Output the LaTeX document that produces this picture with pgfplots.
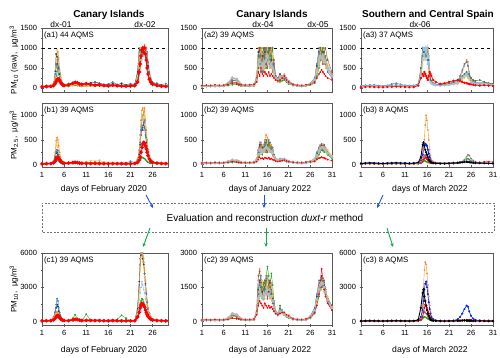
\documentclass[border=0pt]{standalone}
\usepackage{fontspec}
\setmainfont{Liberation Sans}
\usepackage{pgfplots}
\usepackage{pgfplotstable}
\pgfplotsset{compat=1.18}
\usetikzlibrary{arrows.meta}

\definecolor{cyel}{HTML}{F5C342}
\definecolor{cora}{HTML}{F28E2B}
\definecolor{cblu}{HTML}{3A7DC9}
\definecolor{cdbl}{HTML}{1B3F73}
\definecolor{cgrn}{HTML}{2CA02C}
\definecolor{clbl}{HTML}{9CC3EA}
\definecolor{cred}{HTML}{FF0000}
\definecolor{cgry}{HTML}{B8B8B8}
\definecolor{cbrn}{HTML}{8C564B}
\definecolor{cdgr}{HTML}{4E6B2E}
\definecolor{cpbl}{HTML}{0022FF}
\definecolor{arrblue}{HTML}{1A56DB}
\definecolor{arrgreen}{HTML}{11A84A}

% ---- Feb 2020, Canary Islands ----
\pgfplotstableread{
x yel ora blu dbl grn lbl red
1 40 30 50 35 20 45 30
2 35 45 40 60 25 50 35
3 50 40 60 45 30 40 40
3.6 90 70 110 80 50 60 60
4.0 300 250 350 420 150 200 110
4.2 700 500 600 850 300 380 160
4.4 950 680 550 780 420 300 200
4.6 820 900 700 600 500 400 230
4.8 600 750 480 500 350 320 220
5.0 400 450 380 350 250 260 180
5.2 250 300 220 260 150 180 140
5.4 150 180 160 150 100 120 110
5.7 90 100 110 80 60 80 80
6 60 70 80 60 45 55 60
7 50 60 110 70 40 50 80
8 70 90 130 100 60 70 120
8.5 90 110 150 120 70 80 140
9 80 100 140 110 60 70 130
9.5 60 80 110 90 50 60 100
10 50 60 90 70 40 50 90
11 45 55 120 80 40 60 110
12 60 70 100 130 50 70 90
13 50 60 90 150 45 55 70
14 55 65 110 120 50 60 80
15 45 55 80 90 40 50 60
16 40 50 100 80 35 45 55
17 60 70 150 110 50 60 70
18 50 60 90 80 40 50 55
19 45 55 70 120 40 45 50
20 40 50 80 70 35 45 45
21 45 55 110 80 40 50 50
22 60 70 90 100 45 55 60
22.6 300 250 350 400 200 250 150
23.0 800 700 900 1000 600 500 400
23.2 1000 900 1000 950 800 700 600
23.4 950 1000 800 1000 900 850 800
23.6 1000 950 1000 900 1000 700 950
23.8 900 1000 950 1000 850 900 1000
24.0 1000 850 1000 950 1000 800 900
24.2 950 1000 900 1000 900 1000 1000
24.4 1000 900 1000 850 1000 850 850
24.6 850 1000 800 1000 800 900 700
24.8 700 800 900 700 600 700 500
25.0 500 600 650 550 400 450 350
25.3 300 350 400 300 200 250 220
25.6 150 200 250 180 100 150 150
26 90 110 150 100 60 80 100
27 60 70 100 120 45 60 60
28 45 55 80 70 40 50 45
29 40 50 110 60 35 45 40
30 35 45 60 50 30 40 35
}\taba
\pgfplotstableread{
x yel ora blu dbl grn lbl red
1 20 15 25 18 10 20 15
2 18 22 20 25 12 22 18
3 25 20 28 22 14 20 20
3.6 60 50 70 50 25 35 35
4.0 200 250 180 150 50 90 70
4.2 380 480 260 230 80 150 110
4.4 450 550 300 250 100 180 140
4.6 350 500 280 200 90 160 150
4.8 250 380 200 160 70 120 130
5.0 150 250 140 110 50 80 100
5.2 90 150 90 70 35 50 70
5.4 50 80 60 45 25 35 50
5.7 35 45 40 30 18 28 35
6 25 30 30 25 15 22 25
7 22 28 30 24 14 20 30
8 30 35 40 30 18 25 40
8.5 35 40 45 35 20 28 45
9 30 35 40 32 18 25 40
9.5 25 30 35 28 15 22 30
10 22 28 30 25 14 20 25
11 60 25 50 28 14 22 22
12 80 30 40 35 16 25 20
13 70 40 50 30 15 22 22
14 90 35 45 28 14 20 20
15 50 30 35 25 13 18 18
16 30 25 30 22 12 18 18
17 40 28 35 25 14 20 20
18 30 25 30 22 12 18 18
19 25 22 40 20 12 16 16
20 22 20 30 20 11 16 16
21 25 22 70 22 12 18 18
22 30 28 40 28 14 22 22
22.6 80 90 100 70 30 50 40
23.0 250 300 280 200 60 120 90
23.2 500 600 450 400 90 200 150
23.4 800 900 700 600 120 300 250
23.6 1000 1100 900 800 150 400 350
23.8 900 1150 1000 700 140 450 420
24.0 1100 1000 850 850 130 400 450
24.2 950 1150 900 750 120 350 430
24.4 750 900 700 600 100 300 380
24.6 600 700 550 450 80 250 320
24.8 400 500 380 300 60 180 250
25.0 250 300 250 200 45 120 180
25.3 150 180 150 120 30 80 110
25.6 80 100 90 70 22 50 70
26 45 55 60 40 16 35 45
27 30 35 40 28 14 25 28
28 22 28 30 22 12 20 22
29 20 25 28 20 11 18 20
30 18 22 25 18 10 16 18
}\tabb
\pgfplotstableread{
x yel ora blu dbl grn lbl red
1 80 60 100 70 40 90 60
2 70 90 80 120 50 100 70
3 100 80 120 90 60 80 80
3.6 300 250 400 300 150 200 150
4.0 500 600 900 800 250 400 280
4.2 700 800 1500 1200 350 500 400
4.4 650 900 2000 1500 400 600 500
4.6 600 750 1800 1300 350 500 520
4.8 450 600 1200 900 300 400 450
5.0 300 400 800 600 200 300 350
5.2 200 250 500 400 150 200 250
5.4 120 150 300 250 100 130 180
5.7 90 100 180 150 70 90 120
6 70 80 120 100 60 70 90
7 60 70 100 90 50 60 80
8 80 100 150 120 300 90 150
8.5 100 120 180 150 600 100 200
9 90 110 160 130 250 90 180
9.5 70 90 130 110 60 80 120
10 60 70 110 90 50 60 90
11 70 80 150 100 650 70 100
12 80 90 130 150 100 80 90
13 70 80 120 160 60 70 80
14 75 85 140 130 150 75 85
15 60 70 100 100 50 60 70
16 55 65 120 90 45 55 65
17 80 90 180 130 60 70 80
18 65 75 110 100 200 60 70
19 60 70 90 140 550 55 60
20 55 65 100 90 300 55 55
21 60 70 130 100 50 60 60
22 80 90 110 120 60 70 70
22.6 800 900 1000 1100 400 600 400
23.0 2500 3000 3200 3500 900 1500 800
23.2 4500 5000 5500 5000 1500 2500 1200
23.4 5500 6000 6200 5800 1800 3000 1400
23.6 6000 6200 5800 6200 2000 3500 1600
23.8 5200 5800 6000 5500 1900 3200 1500
24.0 4800 5500 5200 5000 1700 2800 1400
24.2 4000 4500 4200 4200 1500 2500 1250
24.4 3000 3500 3200 3300 1200 2000 1000
24.6 2200 2600 2400 2500 900 1500 800
24.8 1500 1800 1700 1700 700 1100 600
25.0 1000 1200 1100 1100 500 800 450
25.3 600 700 700 650 300 500 300
25.6 350 400 400 380 200 300 200
26 200 250 250 220 150 180 130
27 120 140 150 160 100 110 90
28 90 100 120 100 70 80 70
29 80 90 140 90 60 75 60
30 70 80 100 80 55 70 55
}\tabc

% ---- Jan 2022, Canary Islands ----
\pgfplotstableread{
x ora blu yel grn brn dbl red gry
1 50 60 40 30 45 55 60 50
2 60 50 45 35 50 60 70 55
3 55 65 50 40 45 50 60 50
4 70 55 60 35 55 65 80 60
5 60 70 50 40 50 60 65 55
6 65 60 55 45 60 70 70 60
7 80 90 70 60 80 100 90 120
8 150 180 120 80 150 200 120 250
9 120 200 150 90 130 170 100 220
9.5 100 150 90 70 90 120 90 150
10 70 90 60 50 70 80 80 90
11 60 70 55 45 60 70 70 70
12 70 60 65 40 55 65 80 65
13 80 90 70 50 70 80 90 80
13.6 300 250 200 150 250 200 150 200
14.0 1000 800 700 500 600 900 400 600
14.3 700 1000 500 800 1000 600 300 700
14.6 1000 600 900 400 700 1000 500 500
14.9 500 900 1000 600 400 800 350 600
15.2 900 400 600 1000 800 500 300 500
15.5 1000 800 400 700 1000 900 400 650
15.8 600 1000 800 500 600 1000 350 700
16.1 1000 700 1000 900 500 700 300 800
16.4 800 1000 600 1000 900 800 400 650
16.7 500 600 900 600 1000 1000 300 550
17.0 1000 800 500 800 600 700 350 600
17.3 700 500 800 1000 400 600 300 500
17.6 400 600 300 500 700 400 250 400
18 250 300 200 250 300 200 200 250
18.5 200 250 150 200 180 250 180 200
19 300 200 250 150 200 350 200 250
19.5 250 300 200 180 250 280 250 280
20 350 250 300 200 220 300 300 300
20.5 200 250 150 150 180 200 200 200
21 150 180 120 100 130 150 150 150
22 80 100 70 60 80 90 90 90
23 60 70 55 45 60 70 70 65
24 55 65 50 40 55 60 60 60
25 70 60 55 45 50 65 80 60
26 100 120 80 70 90 110 90 100
27 200 250 150 120 180 220 150 200
27.5 500 600 400 300 450 550 250 450
28 800 1000 600 500 700 900 350 700
28.3 1000 700 900 700 1000 800 400 800
28.6 700 1000 1000 900 800 1000 450 750
28.9 1000 800 700 1000 600 900 400 800
29.2 600 900 1000 700 900 700 350 700
29.5 800 600 500 800 1000 800 300 650
30 500 400 600 500 700 500 250 500
31 300 250 350 300 400 350 200 300
}\tabd
\pgfplotstableread{
x ora blu yel grn brn dbl red gry
1 30 35 25 20 30 35 30 30
2 35 30 28 22 30 35 35 32
3 32 38 30 25 28 30 30 30
4 40 35 35 22 32 38 40 35
5 35 40 30 25 30 35 35 32
6 38 35 32 28 35 40 35 35
7 45 50 40 35 45 55 45 60
8 80 60 100 40 70 90 60 90
9 60 80 70 45 60 80 50 80
9.5 50 60 45 35 45 60 45 60
10 40 45 35 30 40 45 40 45
11 35 40 32 28 35 40 35 40
12 40 35 38 25 32 38 40 38
13 45 50 40 30 40 45 45 45
13.6 120 100 80 60 100 90 60 80
14.0 300 250 200 150 200 280 100 200
14.3 450 350 300 200 250 400 150 280
14.6 350 450 250 300 400 300 120 300
14.9 250 300 400 200 250 350 130 250
15.2 400 250 300 350 300 250 110 280
15.5 500 400 250 300 450 350 140 320
15.8 600 450 350 250 300 500 130 350
16.1 550 350 500 400 250 350 120 330
16.4 350 500 300 450 400 300 140 300
16.7 250 300 400 300 450 400 110 280
17.0 400 250 250 350 300 250 120 260
17.3 250 350 300 200 250 300 100 230
17.6 150 200 150 150 200 150 90 160
18 100 120 90 100 110 90 70 100
18.5 80 100 70 80 80 100 60 85
19 110 90 100 70 90 120 70 95
19.5 90 110 80 75 95 100 80 95
20 120 100 110 80 90 110 90 105
20.5 80 90 70 60 75 80 70 80
21 60 70 55 45 60 65 60 62
22 45 50 40 35 45 48 45 46
23 38 42 35 28 38 40 40 38
24 35 40 32 25 35 38 38 36
25 45 40 35 28 35 42 50 40
26 60 70 50 40 55 65 55 60
27 100 120 80 60 90 110 70 95
27.5 200 250 160 120 180 220 100 190
28 300 350 250 200 280 320 130 280
28.3 400 300 350 250 350 380 140 330
28.6 350 420 300 300 300 400 150 340
28.9 400 350 420 280 380 300 140 350
29.2 300 380 350 250 400 350 130 320
29.5 350 300 250 300 300 320 120 290
30 250 200 300 200 250 220 100 230
31 150 130 180 120 160 140 80 150
}\tabe
\pgfplotstableread{
x ora blu yel grn brn dbl red gry
1 60 70 50 40 55 65 70 60
2 70 60 55 45 60 70 80 65
3 65 75 60 50 55 60 70 60
4 80 65 70 45 65 75 90 70
5 70 80 60 50 60 70 75 65
6 75 70 65 55 70 80 80 70
7 100 110 90 80 100 120 100 150
8 250 200 200 150 300 250 150 350
9 200 300 250 120 200 250 130 300
9.5 150 200 130 100 130 170 120 200
10 90 110 80 70 90 100 100 110
11 70 80 65 55 70 80 80 80
12 80 70 75 50 65 75 90 75
13 100 110 90 70 90 100 110 100
13.6 500 400 350 300 450 350 300 350
14.0 1800 1200 1000 800 2000 1400 700 1000
14.3 2300 1600 1400 1200 2200 1800 900 1300
14.6 1600 2000 1100 1500 1700 1500 800 1200
14.9 1000 1500 1800 1000 1200 1300 700 1100
15.2 1500 1000 1200 1700 1400 1000 600 1000
15.5 1800 1400 1000 1300 1800 1500 800 1200
15.8 1200 1900 1500 2000 1300 1800 700 1300
16.1 2000 1300 1800 2400 1000 1400 600 1400
16.4 1500 1800 1200 2000 1600 1300 700 1200
16.7 1000 1200 1600 1500 1800 1700 600 1100
17.0 1700 1400 1000 2100 1200 1200 650 1100
17.3 1200 900 1300 1600 800 1000 550 900
17.6 700 800 600 900 700 600 450 650
18 400 450 350 400 450 350 350 400
18.5 300 350 250 300 280 350 300 300
19 500 400 450 700 400 550 350 450
19.5 400 500 350 400 450 450 400 420
20 350 300 300 350 280 300 400 320
20.5 250 300 200 200 230 260 300 250
21 200 250 300 150 180 200 250 210
22 120 130 100 90 110 120 120 115
23 80 90 75 60 80 85 90 85
24 75 85 70 55 75 80 85 78
25 100 90 80 65 80 95 120 90
26 200 250 160 140 180 220 180 200
27 500 600 400 350 450 550 400 480
27.5 1000 1200 800 700 900 1100 700 950
28 1500 1800 1200 1100 1400 1600 1200 1400
28.3 1800 1500 1600 1400 1700 1700 1800 1600
28.6 1500 1900 1400 1700 1500 2000 2300 1700
28.9 1700 1600 1900 1800 1600 1500 1900 1650
29.2 1300 1700 1500 1400 1800 1600 1400 1500
29.5 1400 1200 1100 1500 1300 1400 1100 1300
30 1000 800 1100 900 1000 900 800 950
31 600 500 650 550 700 600 500 600
}\tabf

% ---- Mar 2022, Southern and Central Spain ----
\pgfplotstableread{
x ora blu dgr lbl gry yel red
1 40 50 45 35 40 30 20
2 60 70 55 45 50 40 25
3 80 60 70 50 55 45 30
4 70 80 60 55 60 50 25
5 50 60 50 40 45 35 20
6 45 55 45 40 40 35 20
7 55 65 50 45 50 40 25
8 60 100 70 50 55 45 30
9 70 120 80 60 65 50 35
10 60 90 70 55 60 45 30
11 50 70 60 45 50 40 25
12 45 60 55 40 45 35 20
13 50 65 60 45 50 40 25
14 80 90 100 70 80 60 60
14.6 400 300 500 300 350 250 250
15.0 1000 800 1000 700 900 600 350
15.2 800 1000 900 1000 1000 800 300
15.4 1000 900 1000 800 900 1000 400
15.6 900 1000 800 1000 1000 700 350
15.8 1000 800 1000 900 800 1000 300
16.0 700 1000 900 1000 1000 800 250
16.2 1000 700 1000 600 700 900 200
16.4 500 600 700 800 500 400 300
16.6 300 400 350 300 250 200 400
16.8 200 250 200 150 180 150 350
17.0 150 180 150 120 140 100 300
17.4 100 120 110 90 100 80 200
18 80 90 90 70 80 60 150
19 70 80 80 60 70 55 100
20 80 90 100 70 75 60 120
21 90 100 120 80 85 70 150
22 120 130 150 100 110 90 180
23 150 180 200 120 130 100 200
23.5 250 300 220 180 200 150 180
24 400 450 300 250 250 200 150
24.5 550 600 350 300 300 250 130
25 700 650 400 350 350 300 120
25.3 650 550 350 300 300 250 110
25.6 400 350 300 250 250 200 100
26 200 250 250 150 180 150 90
26.5 150 180 200 120 140 100 80
27 120 150 180 100 120 90 70
28 100 120 200 90 110 80 60
29 120 150 150 100 100 90 70
30 100 120 120 90 90 70 60
31 80 100 100 70 80 60 50
}\tabg
\pgfplotstableread{
x ora blk blu red gry grn
1 15 20 25 10 15 12
2 20 25 30 12 18 15
3 25 30 35 15 20 18
4 20 28 30 12 18 15
5 15 22 25 10 15 12
6 15 20 25 10 14 12
7 18 25 28 12 16 14
8 20 30 30 14 18 15
9 22 32 35 15 20 18
10 20 28 30 12 18 15
11 18 25 28 12 16 14
12 15 22 25 10 15 12
13 18 25 28 12 16 14
14 25 40 35 15 22 18
14.6 60 150 80 30 50 30
15.0 150 400 200 60 100 50
15.2 300 450 300 100 150 70
15.4 500 380 380 120 180 80
15.6 800 300 420 150 200 70
15.8 1000 250 400 130 180 60
16.0 900 200 380 110 150 50
16.2 700 150 300 90 120 45
16.4 500 100 220 70 90 40
16.6 300 70 150 50 70 35
16.8 180 50 100 40 50 30
17.0 100 40 70 30 40 25
17.4 60 30 50 25 30 20
18 40 25 35 20 25 18
19 30 22 30 18 22 15
20 28 20 28 16 20 14
21 30 25 30 18 22 15
22 35 30 35 20 25 18
23 40 35 40 30 30 25
23.5 45 40 45 40 40 35
24 50 45 50 50 60 50
24.5 55 50 55 55 100 80
25 60 55 60 60 160 110
25.3 55 50 55 55 200 120
25.6 50 45 50 50 180 100
26 45 40 45 45 120 70
26.5 40 35 40 45 80 50
27 35 30 35 40 60 40
28 30 28 32 45 40 30
29 28 25 30 55 35 28
30 25 22 28 60 30 25
31 22 20 25 50 28 22
}\tabh
\pgfplotstableread{
x ora blk blu red gry grn
1 40 50 60 30 40 35
2 50 60 70 35 45 40
3 60 70 80 40 50 45
4 50 65 70 35 45 40
5 40 55 60 30 40 35
6 40 50 60 30 38 35
7 45 60 65 35 42 38
8 50 70 70 38 45 40
9 55 75 80 40 50 45
10 50 65 70 35 45 40
11 45 60 65 35 42 38
12 40 55 60 30 40 35
13 45 60 65 35 42 38
14 80 150 100 50 60 50
14.6 300 1200 400 150 200 100
15.0 1500 2500 1000 400 500 250
15.2 3000 2800 1800 800 700 350
15.4 4500 2200 2800 1200 900 400
15.6 5200 1800 3300 1500 800 380
15.8 5000 1400 3500 1400 700 350
16.0 4200 1000 3000 1200 600 300
16.2 3200 700 2400 900 450 250
16.4 2200 500 1700 700 350 200
16.6 1400 300 1100 500 250 150
16.8 800 200 700 300 180 120
17.0 400 120 400 200 120 90
17.4 200 80 200 120 80 60
18 100 60 100 70 50 45
19 70 50 70 50 40 35
20 60 45 65 40 35 30
21 70 50 70 45 40 35
22 80 60 90 50 45 40
23 100 70 200 70 60 50
23.5 120 80 400 80 70 60
24 130 90 700 100 90 70
24.5 140 100 1100 120 110 80
25 130 90 1400 130 120 90
25.3 120 80 1300 120 110 85
25.6 110 70 900 110 100 80
26 100 65 500 150 90 70
26.5 90 60 250 100 80 60
27 80 55 150 80 70 55
28 70 50 100 70 60 50
29 60 45 80 80 55 45
30 55 40 70 90 50 40
31 50 38 60 70 45 38
}\tabi

\pgfplotsset{
  pan/.style={
    scale only axis,
    axis line style={draw=black!65, line width=0.6pt},
    tick align=center,
    tick pos=left,
    major tick length=3pt,
    minor tick length=2pt,
    every tick/.append style={draw=black!65, line width=0.5pt},
    tick label style={font=\fontsize{7.5}{8}\selectfont},
    /pgf/number format/assume math mode=true,
    /pgf/number format/1000 sep={},
    xtick={1,6,11,16,21,26,31},
    minor y tick num=1,
    xmin=1,
    clip=true,
  },
  rowa/.style={pan, height=64pt, ymin=-100, ymax=1500, ytick={0,500,1000,1500}, xticklabels={}},
  rowb/.style={pan, height=64pt, ymin=-50, ymax=1250, ytick={0,500,1000}},
  rowc/.style={pan, height=72pt, ymin=-300, ymax=6000, ytick={0,3000,6000}},
  col1/.style={width=126pt, xmax=29.5},
  col2/.style={width=130pt, xmax=31},
  col3/.style={width=132pt, xmax=31},
  st/.style={line width=0.4pt, mark=*, mark size=0.65pt},
  thick red/.style={cred, line width=1.6pt, mark=*, mark size=0.9pt},
  thick gray/.style={cgry, line width=1.6pt, mark=*, mark size=0.7pt},
}
\newcommand\ser[3]{\addplot[st,#3] table[x=x,y=#2]{#1};}
\newcommand\tag[1]{\node[anchor=north west, inner sep=0pt, font=\fontsize{7.8}{9}\selectfont] at (rel axis cs:0.015,0.95) {#1};}
\newcommand\capline{\addplot[black, dashed, line width=0.5pt] coordinates {(1,1000) (31,1000)};}

\begin{document}
\begin{tikzpicture}
\path[use as bounding box] (0,0) rectangle (500pt,358pt);

% ---------------- row a ----------------
\begin{axis}[rowa, col1, at={(42pt,330pt)}, anchor=north west]
  \ser{\taba}{lbl}{clbl} \ser{\taba}{grn}{cgrn} \ser{\taba}{dbl}{cdbl}
  \ser{\taba}{blu}{cblu} \ser{\taba}{ora}{cora} \ser{\taba}{yel}{cyel}
  \addplot[thick red] table[x=x,y=red]{\taba};
  \capline
  \tag{(a1) 44 AQMS}
\end{axis}
\begin{axis}[rowa, col2, at={(202pt,330pt)}, anchor=north west]
  \ser{\tabd}{dbl}{cdbl} \ser{\tabd}{blu}{cblu} \ser{\tabd}{ora}{cora}
  \ser{\tabd}{yel}{cyel} \ser{\tabd}{grn}{cgrn} \ser{\tabd}{brn}{cbrn}
  \addplot[thick gray] table[x=x,y=gry]{\tabd};
  \ser{\tabd}{red}{cred}
  \capline
  \tag{(a2) 39 AQMS}
\end{axis}
\begin{axis}[rowa, col3, at={(361pt,330pt)}, anchor=north west]
  \ser{\tabg}{gry}{cgry} \ser{\tabg}{yel}{cyel} \ser{\tabg}{ora}{cora}
  \ser{\tabg}{blu}{cblu} \ser{\tabg}{dgr}{cdgr}
  \addplot[clbl, line width=1.2pt, mark=*, mark size=0.6pt] table[x=x,y=lbl]{\tabg};
  \addplot[cred, line width=0.6pt, mark=*, mark size=0.9pt] table[x=x,y=red]{\tabg};
  \capline
  \tag{(a3) 37 AQMS}
\end{axis}

% ---------------- row b ----------------
\begin{axis}[rowb, col1, at={(42pt,255pt)}, anchor=north west]
  \ser{\tabb}{lbl}{clbl} \ser{\tabb}{grn}{cgrn} \ser{\tabb}{dbl}{cdbl}
  \ser{\tabb}{blu}{cblu} \ser{\tabb}{yel}{cyel} \ser{\tabb}{ora}{cora}
  \addplot[thick red] table[x=x,y=red]{\tabb};
  \tag{(b1) 39 AQMS}
\end{axis}
\begin{axis}[rowb, col2, at={(202pt,255pt)}, anchor=north west]
  \ser{\tabe}{dbl}{cdbl} \ser{\tabe}{blu}{cblu} \ser{\tabe}{ora}{cora}
  \ser{\tabe}{yel}{cyel} \ser{\tabe}{grn}{cgrn} \ser{\tabe}{brn}{cbrn}
  \addplot[thick gray] table[x=x,y=gry]{\tabe};
  \ser{\tabe}{red}{cred}
  \tag{(b2) 39 AQMS}
\end{axis}
\begin{axis}[rowb, col3, at={(361pt,255pt)}, anchor=north west]
  \ser{\tabh}{grn}{cgrn} \ser{\tabh}{gry}{gray}
  \ser{\tabh}{red}{cred}
  \addplot[cpbl, line width=0.9pt, mark=*, mark size=0.6pt] table[x=x,y=blu]{\tabh};
  \ser{\tabh}{ora}{cora}
  \addplot[black, line width=0.8pt, mark=*, mark size=0.6pt] table[x=x,y=blk]{\tabh};
  \tag{(b3) 8 AQMS}
\end{axis}

% ---------------- row c ----------------
\begin{axis}[rowc, col1, at={(42pt,105pt)}, anchor=north west]
  \ser{\tabc}{lbl}{clbl} \ser{\tabc}{grn}{cgrn} \ser{\tabc}{dbl}{cdbl}
  \ser{\tabc}{blu}{cblu} \ser{\tabc}{yel}{cyel} \ser{\tabc}{ora}{cora}
  \addplot[thick red] table[x=x,y=red]{\tabc};
  \tag{(c1) 39 AQMS}
\end{axis}
\begin{axis}[rowc, col2, at={(202pt,105pt)}, anchor=north west,
             ymin=-150, ymax=3000, ytick={0,1500,3000}]
  \ser{\tabf}{dbl}{cdbl} \ser{\tabf}{blu}{cblu} \ser{\tabf}{ora}{cora}
  \ser{\tabf}{yel}{cyel} \ser{\tabf}{brn}{cbrn} \ser{\tabf}{grn}{cgrn}
  \addplot[thick gray] table[x=x,y=gry]{\tabf};
  \ser{\tabf}{red}{cred}
  \tag{(c2) 39 AQMS}
\end{axis}
\begin{axis}[rowc, col3, at={(361pt,105pt)}, anchor=north west]
  \ser{\tabi}{grn}{cgrn} \ser{\tabi}{gry}{gray}
  \ser{\tabi}{ora}{cora}
  \addplot[cpbl, line width=0.6pt, mark=*, mark size=0.7pt] table[x=x,y=blu]{\tabi};
  \addplot[cred, line width=0.6pt, mark=*, mark size=0.7pt] table[x=x,y=red]{\tabi};
  \addplot[black, line width=0.9pt, mark=*, mark size=0.7pt] table[x=x,y=blk]{\tabi};
  \tag{(c3) 8 AQMS}
\end{axis}

% ---------------- titles and labels ----------------
\begin{scope}[font=\fontsize{10}{12}\selectfont\bfseries]
  \node at (109pt,343pt) {Canary Islands};
  \node at (272pt,343pt) {Canary Islands};
  \node at (428pt,343pt) {Southern and Central Spain};
\end{scope}
\begin{scope}[font=\fontsize{8.4}{10}\selectfont]
  \node at (61pt,333pt) {dx-01};
  \node at (145pt,333pt) {dx-02};
  \node at (263pt,333pt) {dx-04};
  \node at (318pt,333pt) {dx-05};
  \node at (420pt,333pt) {dx-06};
\end{scope}
\begin{scope}[font=\fontsize{8.6}{10}\selectfont]
  \node at (104pt,169pt) {days of February 2020};
  \node at (270pt,169pt) {days of January 2022};
  \node at (430pt,169pt) {days of March 2022};
  \node at (104pt,8pt) {days of February 2020};
  \node at (270pt,8pt) {days of January 2022};
  \node at (430pt,8pt) {days of March 2022};
\end{scope}
\begin{scope}[font=\fontsize{8}{10}\selectfont]
  \node[rotate=90] at (14pt,298pt) {PM\textsubscript{10} (raw), \ µg/m\textsuperscript{3}};
  \node[rotate=90] at (14pt,223pt) {PM\textsubscript{2.5}, \ µg/m\textsuperscript{3}};
  \node[rotate=90] at (14pt,69pt) {PM\textsubscript{10}, \ µg/m\textsuperscript{3}};
\end{scope}

% ---------------- method box and arrows ----------------
\draw[black!55, line width=0.6pt, dash pattern=on 2pt off 1.5pt] (42pt,126pt) rectangle (494pt,155pt);
\node[font=\fontsize{10}{12}\selectfont] at (265pt,140pt) {Evaluation and reconstruction \textit{duxt-r} method};
\begin{scope}[line width=0.9pt, -{Stealth[length=4pt,width=3.5pt]}]
  \draw[arrblue] (146pt,163pt) -- (153pt,150pt);
  \draw[arrblue] (264pt,163pt) -- (264pt,150pt);
  \draw[arrblue] (383pt,163pt) -- (377pt,150pt);
  \draw[arrgreen] (150pt,130pt) -- (143pt,111pt);
  \draw[arrgreen] (266pt,130pt) -- (266pt,111pt);
  \draw[arrgreen] (387pt,130pt) -- (393pt,111pt);
\end{scope}
\end{tikzpicture}
\end{document}
